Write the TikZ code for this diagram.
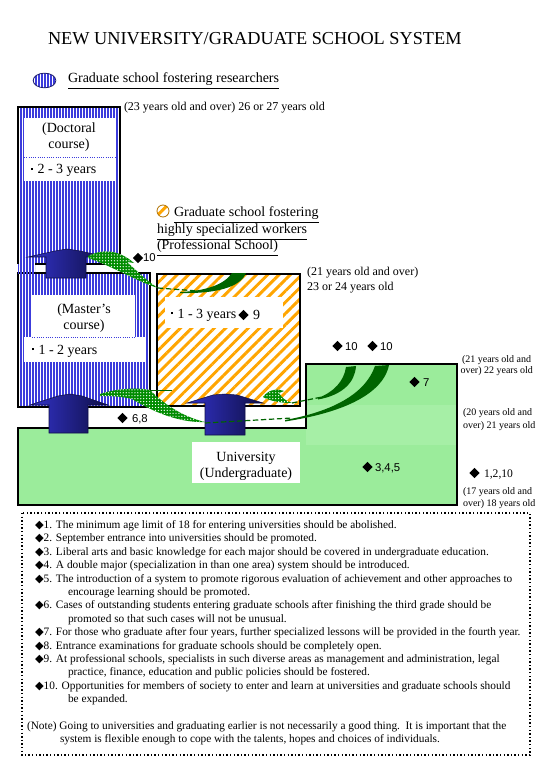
\documentclass[tikz,border=0pt]{standalone}
\usepackage{fontspec}
\setmainfont{Liberation Serif}
\newfontfamily\djv{DejaVu Sans}
\newfontfamily\sansf{Liberation Sans}
\usetikzlibrary{patterns.meta,shapes.geometric}
\definecolor{stripeblue}{RGB}{60,60,220}
\definecolor{orng}{RGB}{255,165,0}
\definecolor{ugreen}{RGB}{155,236,155}
\definecolor{ugreenlt}{RGB}{166,239,166}
\definecolor{dkgreen}{RGB}{0,100,0}
\definecolor{chkgreen}{RGB}{0,140,0}
\definecolor{arrL}{RGB}{50,50,200}
\definecolor{arrR}{RGB}{15,15,70}
\newcommand\myfs[1]{\fontsize{#1}{#1}\selectfont}
\newcommand\mdot{{\rule[0.28em]{0.17em}{0.17em}\hspace{0.3em}}}
\newcommand\ldia{{\djv ◆}}
\begin{document}
\begin{tikzpicture}[x=0.75pt,y=-0.75pt,
  thickbd/.style={draw=black,line width=2.2pt},
  bluestripe/.style={pattern={Lines[angle=90,distance=2.25pt,line width=0.9pt]},pattern color=stripeblue},
  orangestripe/.style={pattern={Lines[angle=45,distance=6pt,line width=2.2pt]},pattern color=orng},
  checker/.style={fill=chkgreen,postaction={pattern={Dots[distance=2.2pt,radius=0.5pt]},pattern color=white}},
  headgreen/.style={fill=dkgreen},
  tail/.style={draw=dkgreen,line width=0.9pt,dash pattern=on 4pt off 2pt},
  uparrow/.style={left color=arrL,right color=arrR,draw=arrR,line width=0.4pt},
  txt/.style={anchor=base west,inner sep=0pt,outer sep=0pt},
  ctxt/.style={anchor=base,inner sep=0pt,outer sep=0pt},
  dia/.style={diamond,fill=black,inner sep=0pt,minimum width=8pt,minimum height=8pt},
  boxfont/.style={font=\myfs{10.5}},
  lblfont/.style={font=\myfs{9}},
  smallfont/.style={font=\myfs{7.5}},
  listfont/.style={font=\myfs{8.5}},
  numfont/.style={font=\sansf\myfs{8.5}},
]
\useasboundingbox (0,0) rectangle (540,780);
\fill[white] (0,0) rectangle (540,780);

% title
\node[txt,font=\myfs{13.7}] (title) at (48,45) {NEW UNIVERSITY/GRADUATE SCHOOL SYSTEM};

% legend researchers
\node[ellipse,bluestripe,draw=stripeblue!50!black,line width=0.6pt,minimum width=17pt,minimum height=11pt,inner sep=0pt] (leg1) at (44.5,80.5) {};
\node[txt,boxfont] (leg1t) at (68,83) {\underline{Graduate school fostering researchers}};

% university
\path[fill=ugreen] (18,428) -- (306,428) -- (306,364) -- (457,364) -- (457,505) -- (18,505) -- cycle;
\fill[ugreenlt] (306,405) rectangle (457,445);
\draw[thickbd] (18,428) -- (306,428) -- (306,364) -- (457,364) -- (457,505) -- (18,505) -- cycle;

% master's
\path[bluestripe] (18,273) rectangle (150,407);
\draw[thickbd] (18,273) rectangle (150,407);
% doctoral
\path[bluestripe] (18,107) rectangle (120,264);
\path[bluestripe] (18,262) rectangle (35,273);
\draw[thickbd] (18,264) -- (18,107) -- (120,107) -- (120,264);
\draw[line width=0.9pt] (35,264) -- (120,264);
% professional
\path[orangestripe] (157,274) rectangle (300,406);
\draw[thickbd] (157,274) rectangle (300,406);

% white inner boxes
\fill[white] (24,118) rectangle (115,181);
\draw[stripeblue,densely dotted,line width=0.7pt] (24,157) -- (115,157);
\fill[white] (32,295) rectangle (135,337);
\fill[white] (24,337) rectangle (145,362);
\draw[stripeblue,densely dotted,line width=0.7pt] (32,337) -- (135,337);
\fill[white] (165,297) rectangle (283,328);
\fill[white] (192,442) rectangle (300,483);

% blue up arrows
\path[uparrow] (46,278) -- (46,257) -- (28,257) -- (55,251) -- (67,249) -- (80,251) -- (107,257) -- (86,257) -- (86,278) -- cycle;
\path[uparrow] (49,433) -- (49,405) -- (30,405) -- (58,396) -- (70,394) -- (82,396) -- (108,405) -- (88,405) -- (88,433) -- cycle;
\path[uparrow] (205,435) -- (205,403) -- (187,403) -- (213,395) -- (225,394) -- (237,395) -- (263,403) -- (245,403) -- (245,435) -- cycle;

% green swooshes
\path[checker] (88,256) .. controls (102,249) and (118,249) .. (134,263) -- (127,262) .. controls (138,272) and (147,281) .. (158,288) .. controls (138,282) and (112,266) .. (88,258) -- cycle;
\draw[tail] (158,288) -- (198,291);
\path[headgreen] (180,292) .. controls (205,291) and (224,285) .. (232,273) -- (246,273) .. controls (242,284) and (224,294) .. (180,293) -- cycle;

\path[checker] (100,394) .. controls (115,389) and (135,387) .. (150,390) .. controls (162,402) and (180,416) .. (205,422) .. controls (178,423) and (152,411) .. (132,399) .. controls (120,396) and (108,396) .. (100,396) -- cycle;
\draw[dkgreen,line width=0.6pt] (150,390) -- (172,390);
\draw[tail] (205,423) -- (292,418);
\path[headgreen] (285,420) .. controls (330,412) and (365,395) .. (375,366) -- (389,365) .. controls (385,386) and (360,410) .. (285,421.5) -- cycle;

\path[checker] (263,397) .. controls (268,390) and (276,388) .. (284,391) -- (279,393) .. controls (282,398) and (286,401) .. (292,403) .. controls (280,403) and (270,401) .. (263,397) -- cycle;
\draw[tail] (292,403) -- (322,397);
\path[headgreen] (318,398) .. controls (334,392) and (344,381) .. (346,367) -- (356,366) .. controls (355,382) and (343,395) .. (318,399.5) -- cycle;

% box texts
\node[ctxt,boxfont] (doc1) at (69,133) {(Doctoral};
\node[ctxt,boxfont] (doc2) at (69,149) {course)};
\node[txt,boxfont] (doc3) at (31,174) {\mdot2 - 3 years};
\node[ctxt,boxfont] (mas1) at (84,313) {(Master\char"27 s};
\node[ctxt,boxfont] (mas2) at (84,329) {course)};
\node[txt,boxfont] (mas3) at (32,354) {\mdot1 - 2 years};
\node[txt,boxfont] (pro1) at (171,318) {\mdot1 - 3 years};
\node[dia] (d9) at (243.5,315) {};
\node[txt,boxfont] (pro9) at (253,319) {9};
\node[ctxt,boxfont] (uni1) at (246,461) {University};
\node[ctxt,boxfont] (uni2) at (246,477) {(Undergraduate)};

% professional legend
\node[circle,orangestripe,draw=orng!70!black,line width=0.6pt,minimum size=9pt,inner sep=0pt] (leg2) at (163,211) {};
\node[txt,boxfont] (leg2a) at (174,217) {\underline{Graduate school fostering}};
\node[txt,boxfont] (leg2b) at (157,234) {\underline{highly specialized workers}};
\node[txt,boxfont] (leg2c) at (157,250) {\underline{(Professional School)}};

% age labels
\node[txt,lblfont] (age1) at (124,111) {(23 years old and over) 26 or 27 years old};
\node[txt,lblfont] (age2a) at (307,275) {(21 years old and over)};
\node[txt,lblfont] (age2b) at (307,290) {23 or 24 years old};
\node[txt,smallfont] (age3a) at (462,362) {(21 years old and};
\node[txt,smallfont] (age3b) at (460.5,373) {over) 22 years old};
\node[txt,smallfont] (age4a) at (463,415) {(20 years old and};
\node[txt,smallfont] (age4b) at (463,428) {over) 21 years old};
\node[txt,smallfont] (age5a) at (463,494) {(17 years old and};
\node[txt,smallfont] (age5b) at (463,506) {over) 18 years old};

% diamond labels
\node[dia] (dA) at (138,258) {};
\node[txt,numfont] (nA) at (143,262) {10};
\node[dia] (dB) at (337.5,346) {};
\node[txt,numfont] (nB) at (345,350) {10};
\node[dia] (dC) at (372.5,346) {};
\node[txt,numfont] (nC) at (380,350) {10};
\node[dia] (dD) at (414.5,382) {};
\node[txt,numfont] (nD) at (423,386) {7};
\node[dia] (dE) at (367.5,467) {};
\node[txt,numfont] (nE) at (375,471) {3,4,5};
\node[dia] (dF) at (474.5,473) {};
\node[txt,font=\myfs{8.7}] (nF) at (484,477) {1,2,10};
\node[dia] (dG) at (122.5,418) {};
\node[txt,numfont] (nG) at (132,422) {6,8};

% list frame
\draw[line width=1.1pt,dash pattern=on 1.1pt off 1.6pt] (22,513) rectangle (530,755);
\node[txt,listfont] (l1) at (35,528.5) {\ldia1. The minimum age limit of 18 for entering universities should be abolished.};
\node[txt,listfont] (l2) at (35,541.9) {\ldia2. September entrance into universities should be promoted.};
\node[txt,listfont] (l3) at (35,555.3) {\ldia3. Liberal arts and basic knowledge for each major should be covered in undergraduate education.};
\node[txt,listfont] (l4) at (35,568.7) {\ldia4. A double major (specialization in than one area) system should be introduced.};
\node[txt,listfont] (l5) at (35,582.1) {\ldia5. The introduction of a system to promote rigorous evaluation of achievement and other approaches to};
\node[txt,listfont] (l5b) at (68,595.5) {encourage learning should be promoted.};
\node[txt,listfont] (l6) at (35,608.9) {\ldia6. Cases of outstanding students entering graduate schools after finishing the third grade should be};
\node[txt,listfont] (l6b) at (68,622.3) {promoted so that such cases will not be unusual.};
\node[txt,listfont] (l7) at (35,635.7) {\ldia7. For those who graduate after four years, further specialized lessons will be provided in the fourth year.};
\node[txt,listfont] (l8) at (35,649.1) {\ldia8. Entrance examinations for graduate schools should be completely open.};
\node[txt,listfont] (l9) at (35,662.5) {\ldia9. At professional schools, specialists in such diverse areas as management and administration, legal};
\node[txt,listfont] (l9b) at (68,675.9) {practice, finance, education and public policies should be fostered.};
\node[txt,listfont] (l10) at (35,689.3) {\ldia10. Opportunities for members of society to enter and learn at universities and graduate schools should};
\node[txt,listfont] (l10b) at (68,702.7) {be expanded.};
\node[txt,listfont] (n1) at (27,729.5) {(Note) Going to universities and graduating earlier is not necessarily a good thing.\ \ It is important that the};
\node[txt,listfont] (n2) at (60,742.9) {system is flexible enough to cope with the talents, hopes and choices of individuals.};
\end{tikzpicture}
\end{document}
